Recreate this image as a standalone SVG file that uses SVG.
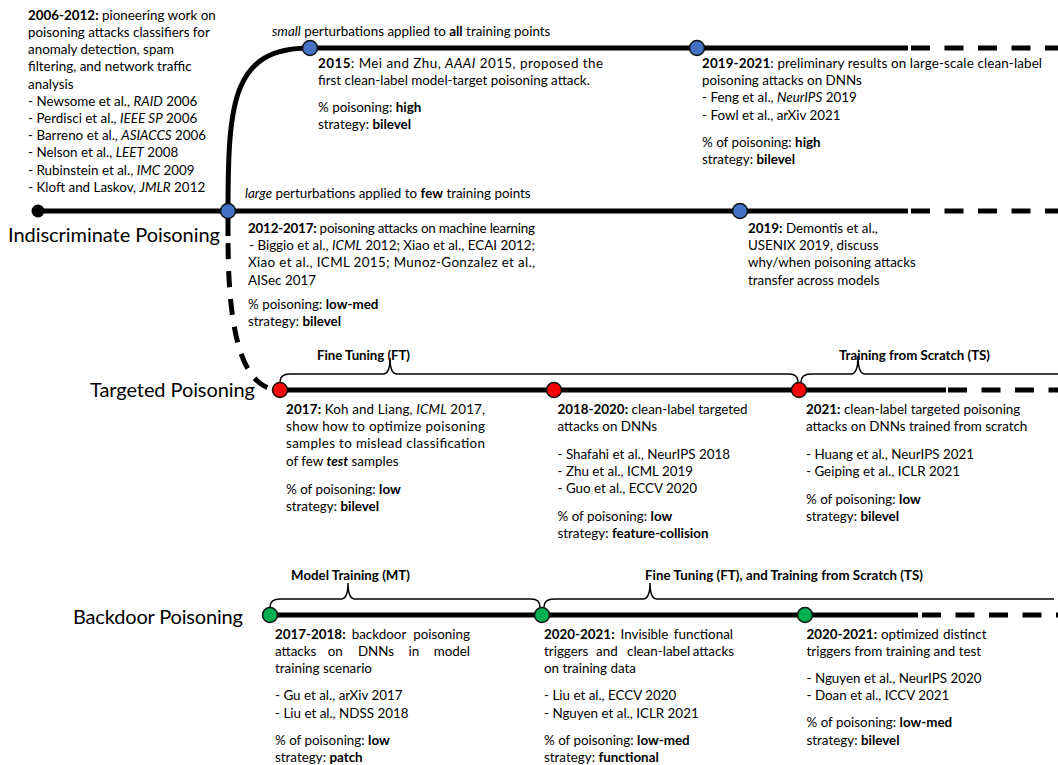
<svg xmlns="http://www.w3.org/2000/svg" width="1058" height="765" viewBox="0 0 1058 765">
<style>
text{font-family:Lato,"Liberation Sans",sans-serif;font-size:13.4px;fill:#000}
.h{font-size:20px}
.lb{font-weight:bold;font-size:13.3px}
.b{font-weight:bold}
.i{font-style:italic}
.e{text-anchor:end}
.trk{stroke:#000;stroke-width:5;fill:none}
.dash{stroke:#000;stroke-width:5;fill:none;stroke-dasharray:19 14.5}
.br{stroke:#000;stroke-width:1.5;fill:none}
.nb{fill:#4472C4;stroke:#111;stroke-width:1.5}
.nr{fill:#FF0000;stroke:#111;stroke-width:1.5}
.ng{fill:#00B050;stroke:#111;stroke-width:1.5}
</style>
<rect width="1058" height="765" fill="#fff"/>
<g id="connectors">
<path class="trk" d="M38,211 H908"/>
<path class="dash" d="M911,211 H1058"/>
<path class="trk" d="M228,211 C228,100 233,48 310,48 H908"/>
<path class="dash" d="M911,48 H1058"/>
<path class="trk" d="M228,211 V236"/>
<path class="trk" d="M228,236 C228,320 238,390 280,390" stroke-dasharray="16 12" stroke-dashoffset="21"/>
<path class="trk" d="M280,390 H946"/>
<path class="dash" d="M948,390 H1058"/>
<path class="trk" d="M270,615 H918"/>
<path class="dash" d="M922,615 H1058"/>
<path class="br" d="M280,382 Q280,374 290,374 L383,374 Q390,374 390,358 Q390,374 397,374 L789,374 Q798,374 798,382"/>
<path class="br" d="M801,382 Q801,374 811,374 L851,374 Q858,374 858,356 Q858,374 865,374 L1058,374"/>
<path class="br" d="M270,607 Q270,599 280,599 L341,599 Q348,599 348,583 Q348,599 355,599 L531,599 Q540,599 540,607"/>
<path class="br" d="M544,607 Q544,599 554,599 L643,599 Q650,599 650,583 Q650,599 657,599 L1054,599"/>
</g>
<g id="titles">
<text class="h" x="8" y="242" textLength="212" lengthAdjust="spacing">Indiscriminate Poisoning</text>
<text class="h" x="90" y="397" textLength="165" lengthAdjust="spacing">Targeted Poisoning</text>
<text class="h" x="73" y="624" textLength="170" lengthAdjust="spacing">Backdoor Poisoning</text>
<text x="272" y="36"><tspan class="i">small</tspan> perturbations applied to <tspan class="b">all</tspan> training points</text>
<text x="245" y="198"><tspan class="i">large</tspan> perturbations applied to <tspan class="b">few</tspan> training points</text>
<text class="lb" x="317" y="360" textLength="93" lengthAdjust="spacing">Fine Tuning (FT)</text>
<text class="lb" x="839" y="360" textLength="151" lengthAdjust="spacing">Training from Scratch (TS)</text>
<text class="lb" x="291" y="580" textLength="119" lengthAdjust="spacing">Model Training (MT)</text>
<text class="lb" x="645" y="580" textLength="278" lengthAdjust="spacing">Fine Tuning (FT), and Training from Scratch (TS)</text>
</g>
<g id="start">
<circle cx="38" cy="211" r="6.5" fill="#000"/>
<text x="28" y="19.5"><tspan class="b">2006-2012:</tspan> pioneering work on</text>
<text x="28" y="36.7">poisoning attacks classifiers for</text>
<text x="28" y="54">anomaly detection, spam</text>
<text x="28" y="71.2">filtering, and network traffic</text>
<text x="28" y="88.5">analysis</text>
<text x="28" y="105.7">- Newsome et al., <tspan class="i">RAID</tspan> 2006</text>
<text x="28" y="122.9">- Perdisci et al., <tspan class="i">IEEE SP</tspan> 2006</text>
<text x="28" y="140.2">- Barreno et al., <tspan class="i">ASIACCS</tspan> 2006</text>
<text x="28" y="157.4">- Nelson et al., <tspan class="i">LEET</tspan> 2008</text>
<text x="28" y="174.7">- Rubinstein et al., <tspan class="i">IMC</tspan> 2009</text>
<text x="28" y="191.9">- Kloft and Laskov, <tspan class="i">JMLR</tspan> 2012</text>
</g>
<g id="n2012">
<circle class="nb" cx="228" cy="211" r="7.5"/>
<text x="248" y="233" textLength="287" lengthAdjust="spacing"><tspan class="b">2012-2017:</tspan> poisoning attacks on machine learning</text>
<text x="249" y="250.2" textLength="286" lengthAdjust="spacing">- Biggio et al., <tspan class="i">ICML</tspan> 2012;  Xiao et al., ECAI 2012;</text>
<text x="248" y="267.4" textLength="287" lengthAdjust="spacing">Xiao et al., ICML 2015; Munoz-Gonzalez et al.,</text>
<text x="248" y="284.6">AISec 2017</text>
<text x="248" y="309">% poisoning: <tspan class="b">low-med</tspan></text>
<text x="248" y="326.2">strategy: <tspan class="b">bilevel</tspan></text>
</g>
<g id="n2015">
<circle class="nb" cx="310" cy="48" r="7.5"/>
<text x="318" y="67.5" textLength="285" lengthAdjust="spacing"><tspan class="b">2015</tspan>: Mei and Zhu, <tspan class="i">AAAI</tspan> 2015, proposed the</text>
<text x="318" y="84.7">first clean-label model-target poisoning attack.</text>
<text x="318" y="111.5">% poisoning: <tspan class="b">high</tspan></text>
<text x="318" y="128.7">strategy: <tspan class="b">bilevel</tspan></text>
</g>
<g id="n2019a">
<circle class="nb" cx="697" cy="48" r="7.5"/>
<text x="702" y="68" textLength="340" lengthAdjust="spacing"><tspan class="b">2019-2021</tspan>: preliminary results on large-scale clean-label</text>
<text x="702" y="85.2">poisoning attacks on DNNs</text>
<text x="702" y="102.4">- Feng et al., <tspan class="i">NeurIPS</tspan> 2019</text>
<text x="702" y="119.6">- Fowl et al., arXiv 2021</text>
<text x="702" y="147">% of poisoning: <tspan class="b">high</tspan></text>
<text x="702" y="164.2">strategy: <tspan class="b">bilevel</tspan></text>
</g>
<g id="n2019b">
<circle class="nb" cx="740" cy="211" r="7.5"/>
<text x="748" y="233"><tspan class="b">2019:</tspan>  Demontis et al.,</text>
<text x="748" y="250.2">USENIX 2019, discuss</text>
<text x="748" y="267.4">why/when poisoning attacks</text>
<text x="748" y="284.6">transfer across models</text>
</g>
<g id="t2017">
<circle class="nr" cx="280" cy="390" r="7.5"/>
<text x="286" y="414" textLength="199" lengthAdjust="spacing"><tspan class="b">2017:</tspan> Koh and Liang, <tspan class="i">ICML</tspan> 2017,</text>
<text x="286" y="431.2" textLength="199" lengthAdjust="spacing">show how to optimize poisoning</text>
<text x="286" y="448.4" textLength="199" lengthAdjust="spacing">samples to mislead classification</text>
<text x="286" y="465.6">of few <tspan class="b i">test</tspan> samples</text>
<text x="286" y="494">% of poisoning: <tspan class="b">low</tspan></text>
<text x="286" y="511.2">strategy: <tspan class="b">bilevel</tspan></text>
</g>
<g id="t2018">
<circle class="nr" cx="554" cy="390" r="7.5"/>
<text x="557.5" y="414"><tspan class="b">2018-2020:</tspan> clean-label targeted</text>
<text x="557.5" y="431.2">attacks on DNNs</text>
<text x="557.5" y="458.5">- Shafahi et al., NeurIPS 2018</text>
<text x="557.5" y="475.7">- Zhu et al., ICML 2019</text>
<text x="557.5" y="492.9">- Guo et al., ECCV 2020</text>
<text x="557.5" y="520.5">% of poisoning: <tspan class="b">low</tspan></text>
<text x="557.5" y="537.7">strategy: <tspan class="b">feature-collision</tspan></text>
</g>
<g id="t2021">
<circle class="nr" cx="799" cy="390" r="7.5"/>
<text x="806" y="414"><tspan class="b">2021:</tspan> clean-label targeted poisoning</text>
<text x="806" y="431.2">attacks on DNNs trained from scratch</text>
<text x="806" y="458.5">- Huang et al., NeurIPS 2021</text>
<text x="806" y="475.7">- Geiping et al., ICLR 2021</text>
<text x="806" y="503.5">% of poisoning: <tspan class="b">low</tspan></text>
<text x="806" y="520.7">strategy: <tspan class="b">bilevel</tspan></text>
</g>
<g id="b2017">
<circle class="ng" cx="270" cy="615" r="7.5"/>
<text y="639"><tspan class="b" x="275">2017-2018:</tspan> <tspan x="351.7">backdoor</tspan> <tspan class="e" x="470">poisoning</tspan></text>
<text y="656.2"><tspan x="275">attacks</tspan> <tspan x="327.7">on</tspan> <tspan x="357.9">DNNs</tspan> <tspan x="408.6">in</tspan> <tspan class="e" x="470">model</tspan></text>
<text x="275" y="673.4">training scenario</text>
<text x="275" y="700.4">- Gu et al., arXiv 2017</text>
<text x="275" y="717.6">- Liu et al., NDSS 2018</text>
<text x="275" y="744.6">% of poisoning: <tspan class="b">low</tspan></text>
<text x="275" y="761.8">strategy: <tspan class="b">patch</tspan></text>
</g>
<g id="b2020a">
<circle class="ng" cx="542" cy="615" r="7.5"/>
<text y="639"><tspan class="b" x="544">2020-2021:</tspan> <tspan x="620.5">Invisible</tspan> <tspan class="e" x="733">functional</tspan></text>
<text y="656.2"><tspan x="544">triggers</tspan> <tspan x="596.1">and</tspan> <tspan x="627">clean-label</tspan> <tspan class="e" x="734">attacks</tspan></text>
<text x="544" y="673.4">on training data</text>
<text x="544" y="700.4">- Liu et al., ECCV 2020</text>
<text x="544" y="717.6">- Nguyen et al., ICLR 2021</text>
<text x="544" y="744.6">% of poisoning: <tspan class="b">low-med</tspan></text>
<text x="544" y="761.8">strategy: <tspan class="b">functional</tspan></text>
</g>
<g id="b2020b">
<circle class="ng" cx="805" cy="615" r="7.5"/>
<text y="639"><tspan class="b" x="806.5">2020-2021:</tspan> <tspan x="880.9">optimized</tspan> <tspan class="e" x="986.5">distinct</tspan></text>
<text x="806.5" y="656.2">triggers from training and test</text>
<text x="806.5" y="683.2">- Nguyen et al., NeurIPS 2020</text>
<text x="806.5" y="700.4">- Doan et al., ICCV 2021</text>
<text x="806.5" y="727.4">% of poisoning: <tspan class="b">low-med</tspan></text>
<text x="806.5" y="744.6">strategy: <tspan class="b">bilevel</tspan></text>
</g>
</svg>
